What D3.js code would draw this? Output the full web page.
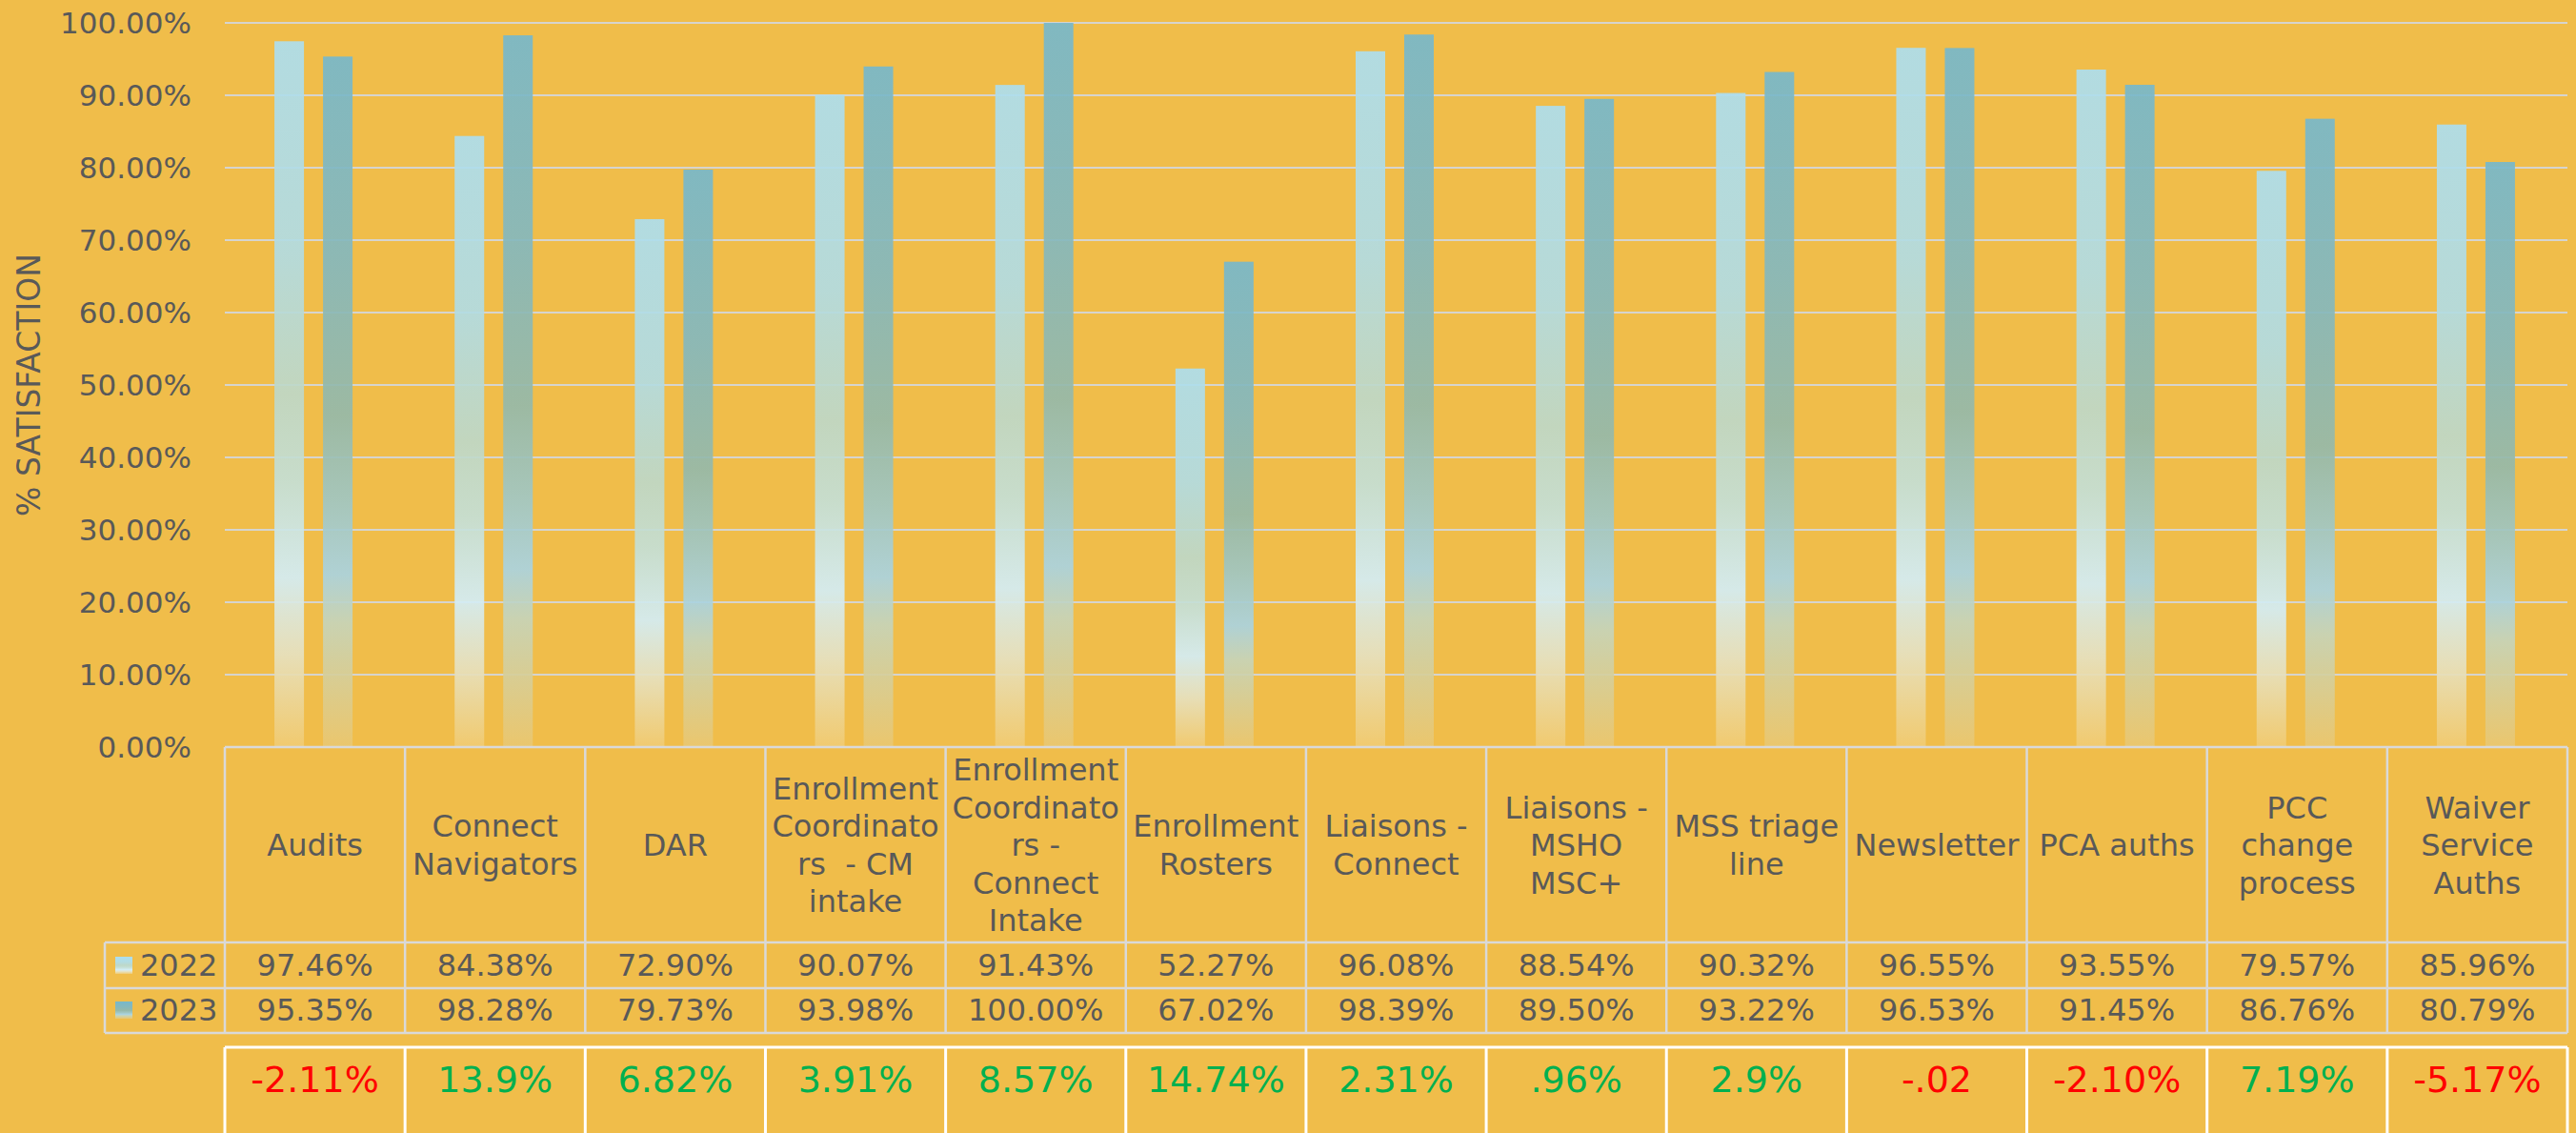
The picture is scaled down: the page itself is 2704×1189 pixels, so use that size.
<!DOCTYPE html>
<html>
<head>
<meta charset="utf-8">
<script src="https://cdn.jsdelivr.net/npm/d3@7"></script>
<style>
  html, body { margin: 0; padding: 0; background: #F0BD4A; }
  svg { display: block; }
  text { font-family: "DejaVu Sans", Verdana, sans-serif; fill: #595959; }
</style>
</head>
<body>
<script>
// Survey categories (line breaks follow the wrapped table header)
const categories = [
  "Audits",
  "Connect\nNavigators",
  "DAR",
  "Enrollment\nCoordinato\nrs  - CM\nintake",
  "Enrollment\nCoordinato\nrs -\nConnect\nIntake",
  "Enrollment\nRosters",
  "Liaisons -\nConnect",
  "Liaisons -\nMSHO\nMSC+",
  "MSS triage\nline",
  "Newsletter",
  "PCA auths",
  "PCC\nchange\nprocess",
  "Waiver\nService\nAuths"
];
const seriesNames = ["2022", "2023"];
const values2022 = [0.9746, 0.8438, 0.7290, 0.9007, 0.9143, 0.5227, 0.9608, 0.8854, 0.9032, 0.9655, 0.9355, 0.7957, 0.8596];
const values2023 = [0.9535, 0.9828, 0.7973, 0.9398, 1.0000, 0.6702, 0.9839, 0.8950, 0.9322, 0.9653, 0.9145, 0.8676, 0.8079];
const changeLabels = ["-2.11%", "13.9%", "6.82%", "3.91%", "8.57%", "14.74%", "2.31%", ".96%", "2.9%", "-.02", "-2.10%", "7.19%", "-5.17%"];
const yTicks = [0, 0.1, 0.2, 0.3, 0.4, 0.5, 0.6, 0.7, 0.8, 0.9, 1.0];

const W = 2704, H = 1189;
const plotLeft = 236, plotRight = 2695, plotTop = 24, plotBase = 784;

const svg = d3.select("body").append("svg").attr("width", W).attr("height", H);
svg.append("rect").attr("width", W).attr("height", H).attr("fill", "#F0BD4A");

const defs = svg.append("defs");
const gradStops = {
  "2022": [[0, "#ADDEEE"], [0.30, "#B2DCE3"], [0.50, "#BED8C8"], [0.62, "#C4DFD6"], [0.76, "#D3EDF6"], [0.87, "#E6E1C0"], [1, "#F1CB72"]],
  "2023": [[0, "#77B8CB"], [0.30, "#85B8BD"], [0.52, "#95B9AA"], [0.64, "#A0C6C2"], [0.75, "#AAD3E0"], [0.82, "#C6D4BA"], [1, "#EAC770"]]
};
seriesNames.forEach(s => {
  const g = defs.append("linearGradient").attr("id", "grad" + s)
    .attr("x1", 0).attr("y1", 0).attr("x2", 0).attr("y2", 1);
  gradStops[s].forEach(([o, c]) => g.append("stop").attr("offset", o).attr("stop-color", c));
});

const x = d3.scaleBand().domain(categories).range([plotLeft, plotRight]).padding(0);
const xs = d3.scaleBand().domain(seriesNames).range([-41, 41]).paddingInner(0.392);
const y = d3.scaleLinear().domain([0, 1]).range([plotBase, plotTop]);

// Gridlines
svg.append("g").selectAll("line").data(yTicks.slice(1)).join("line")
  .attr("x1", plotLeft).attr("x2", plotRight)
  .attr("y1", d => y(d)).attr("y2", d => y(d))
  .attr("stroke", "#D6D4CE").attr("stroke-width", 2);

// Y axis labels
const yAxis = d3.axisLeft(y).tickValues(yTicks).tickFormat(d3.format(".2%")).tickSize(0).tickPadding(0);
const ya = svg.append("g").attr("transform", `translate(201,0)`).call(yAxis);
ya.select(".domain").remove();
ya.selectAll("text").attr("font-size", 31).attr("fill", "#595959")
  .style("font-family", '"DejaVu Sans", Verdana, sans-serif').attr("dy", "0.35em");

// Axis title
svg.append("text").attr("transform", "translate(30,404) rotate(-90)")
  .attr("text-anchor", "middle").attr("dy", "0.35em")
  .attr("font-size", 33).text("% SATISFACTION");

// Bars
const rows = categories.map((c, i) => ({ cat: c, "2022": values2022[i], "2023": values2023[i] }));
const groups = svg.append("g").selectAll("g").data(rows).join("g")
  .attr("transform", d => `translate(${x(d.cat) + x.bandwidth() / 2 - 1.5},0)`);
groups.selectAll("rect").data(d => seriesNames.map(s => ({ s, v: d[s] }))).join("rect")
  .attr("x", d => xs(d.s)).attr("width", xs.bandwidth())
  .attr("y", d => y(d.v)).attr("height", d => plotBase - y(d.v))
  .attr("fill", d => `url(#grad${d.s})`).attr("opacity", 0.92);

// Data table
const tableLine = "#D9D9D9";
const rowTop = 784, rowA = 989, rowB = 1037, rowC = 1084;
const tg = svg.append("g");
const bounds = categories.map(c => x(c)).concat([plotRight]);
tg.selectAll("line.v").data(bounds).join("line")
  .attr("x1", d => d).attr("x2", d => d).attr("y1", rowTop).attr("y2", rowC)
  .attr("stroke", tableLine).attr("stroke-width", 2.5);
[rowTop, rowA, rowB, rowC].forEach(yy => {
  tg.append("line").attr("x1", yy === rowTop ? plotLeft : 110).attr("x2", plotRight)
    .attr("y1", yy).attr("y2", yy).attr("stroke", tableLine).attr("stroke-width", 2.5);
});
tg.append("line").attr("x1", 110).attr("x2", 110).attr("y1", rowA).attr("y2", rowC)
  .attr("stroke", tableLine).attr("stroke-width", 2.5);

// Header labels
const lh = 39.5;
categories.forEach(c => {
  const lines = c.split("\n");
  const cx = x(c) + x.bandwidth() / 2;
  const t = tg.append("text").attr("text-anchor", "middle").attr("font-size", 32);
  lines.forEach((ln, j) => {
    t.append("tspan").attr("x", cx)
      .attr("y", 887 + (j - (lines.length - 1) / 2) * lh).attr("dy", "0.35em")
      .attr("xml:space", "preserve").text(ln);
  });
});

// Value rows
const pct = d3.format(".2%");
[[values2022, 1013], [values2023, 1060]].forEach(([vals, yy]) => {
  tg.selectAll(null).data(vals).join("text")
    .attr("x", (d, i) => x(categories[i]) + x.bandwidth() / 2)
    .attr("y", yy).attr("dy", "0.35em").attr("text-anchor", "middle")
    .attr("font-size", 32).text(d => pct(d));
});

// Legend keys
seriesNames.forEach((s, i) => {
  const yy = [1013, 1060][i];
  tg.append("rect").attr("x", 121).attr("y", yy - 9).attr("width", 18).attr("height", 18)
    .attr("fill", `url(#grad${s})`);
  tg.append("text").attr("x", 147).attr("y", yy).attr("dy", "0.35em")
    .attr("font-size", 32).text(s);
});

// Change row
const cg = svg.append("g");
const cTop = 1099, cBot = 1200;
cg.selectAll("line").data(bounds).join("line")
  .attr("x1", d => d).attr("x2", d => d).attr("y1", cTop).attr("y2", cBot)
  .attr("stroke", "#FFFFFF").attr("stroke-width", 3);
cg.append("line").attr("x1", plotLeft).attr("x2", plotRight).attr("y1", cTop).attr("y2", cTop)
  .attr("stroke", "#FFFFFF").attr("stroke-width", 3);
cg.selectAll("text").data(changeLabels).join("text")
  .attr("x", (d, i) => x(categories[i]) + x.bandwidth() / 2)
  .attr("y", 1133).attr("dy", "0.35em").attr("text-anchor", "middle")
  .attr("font-size", 38)
  .style("fill", d => d.startsWith("-") ? "#FF0000" : "#00B050")
  .text(d => d);
</script>
</body>
</html>
